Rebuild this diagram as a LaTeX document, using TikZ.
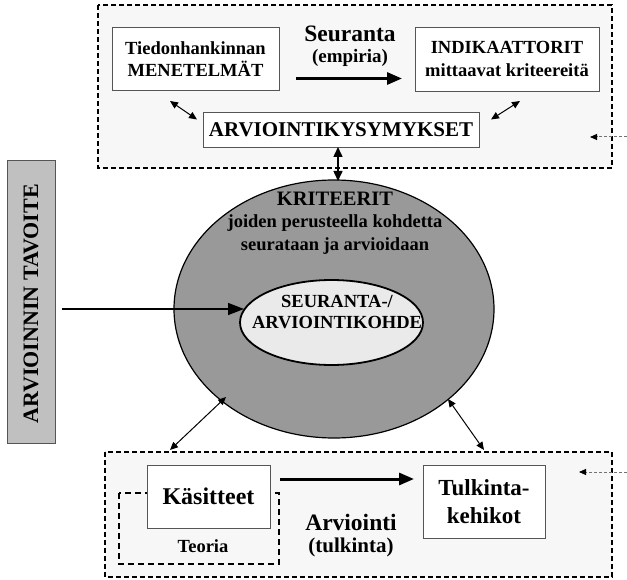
\documentclass[tikz,border=0pt]{standalone}
\usepackage{fontspec}
\setmainfont{Liberation Serif}
\usetikzlibrary{shapes.geometric,arrows.meta}
\definecolor{panel}{HTML}{F7F7F7}
\definecolor{ring}{HTML}{999999}
\definecolor{core}{HTML}{EAEAEA}
\definecolor{goal}{HTML}{C0C0C0}
\definecolor{edge}{HTML}{555555}
\newcommand{\fs}[1]{\fontsize{#1}{1.2\dimexpr#1pt\relax}\selectfont\bfseries}
\begin{document}
\begin{tikzpicture}[x=1pt,y=-1pt,
  panelbox/.style={draw=black, dash pattern=on 5pt off 3pt, line width=1.4pt, fill=panel},
  textbox/.style={draw=edge, line width=0.8pt, fill=white, inner sep=0pt, align=center},
  lbl/.style={inner sep=0pt, align=center},
  bigarrow/.style={line width=3pt, -{Triangle[length=15pt,width=12pt]}},
  twoway/.style={line width=1pt, {Triangle[length=8pt,width=7pt]}-{Triangle[length=8pt,width=7pt]}},
  hint/.style={draw=black!55, line width=1pt, dash pattern=on 3pt off 2pt, -{Triangle[length=7pt,width=6pt,color=black]}}
]
\useasboundingbox (0,0) rectangle (627,580);

% dashed panels
\draw[panelbox] (98,5) rectangle (612,168);
\draw[panelbox] (105,452) rectangle (612,577);

% upper panel: monitoring
\node[textbox, font=\fs{18.5}, minimum width=167pt, minimum height=63pt] (menet) at (195.5,59)
  {Tiedonhankinnan\\MENETELMÄT};
\node[textbox, font=\fs{18.5}, minimum width=184pt, minimum height=64pt] (indik) at (507,59)
  {INDIKAATTORIT\\[1pt]mittaavat kriteereitä};
\node[textbox, font=\fs{21}, minimum width=276pt, minimum height=35pt] (kys) at (341,129.5)
  {ARVIOINTIKYSYMYKSET};
\node[lbl, font=\fs{23.5}] (seur) at (350,34) {Seuranta};
\node[lbl, font=\fs{19}] (emp) at (350,58) {(empiria)};
\coordinate (s1) at (296,78.5);
\coordinate (s2) at (402,78.5);
\draw[bigarrow] (s1) -- (s2);

% goal bar
\node[draw=edge, line width=0.8pt, fill=goal, minimum width=48pt, minimum height=283pt, inner sep=0pt] (goal) at (31,301.5) {};
\node[lbl, rotate=90, font=\fs{22}] (goaltxt) at (31,304) {ARVIOINNIN TAVOITE};

% criteria ring and target
\node[draw=black, line width=1.2pt, fill=ring, ellipse, minimum width=320pt, minimum height=258pt, inner sep=0pt] (outer) at (334,309) {};
\node[draw=black, line width=1.8pt, fill=core, ellipse, minimum width=183pt, minimum height=85pt, inner sep=0pt] (inner) at (331.5,322.5) {};
\node[lbl, font=\fs{20.5}] (krit) at (335,199) {KRITEERIT};
\node[lbl, font=\fs{18.5}] (krit2) at (335,223) {joiden perusteella kohdetta};
\node[lbl, font=\fs{18.5}] (krit3) at (335,246) {seurataan ja arvioidaan};
\node[lbl, font=\fs{18.5}] (kohde) at (337,312) {SEURANTA-/\\[-2pt]ARVIOINTIKOHDE};

% lower panel: evaluation
\draw[black, line width=1.4pt, dash pattern=on 6pt off 4pt] (119,493) rectangle (279,564);
\node[textbox, font=\fs{24}, minimum width=123pt, minimum height=63pt] (kas) at (208.5,496.5) {Käsitteet};
\node[lbl, font=\fs{18.5}] (teoria) at (203,546) {Teoria};
\node[textbox, font=\fs{23}, minimum width=122pt, minimum height=73pt] (tulk) at (484,501.5)
  {Tulkinta-\\kehikot};
\node[lbl, font=\fs{23.5}] (arv) at (351,522) {Arviointi};
\node[lbl, font=\fs{21}] (arv2) at (351,547) {(tulkinta)};

% connectors
\coordinate (gstart) at (62,309);
\coordinate (gtip) at (244,309);
\draw[line width=1.5pt, -{Triangle[length=16pt,width=12pt]}] (gstart) -- (gtip);

\coordinate (t1) at (280,479);
\coordinate (t2) at (414,479);
\draw[bigarrow] (t1) -- (t2);

\coordinate (a1) at (170,101); \coordinate (a2) at (197,119.5);
\coordinate (b1) at (520,101); \coordinate (b2) at (491,119.5);
\draw[twoway] (a1) -- (a2);
\draw[twoway] (b1) -- (b2);
\coordinate (v1) at (338,147); \coordinate (v2) at (338,181);
\draw[line width=1.5pt, {Triangle[length=10pt,width=9pt]}-{Triangle[length=10pt,width=9pt]}] (v1) -- (v2);
\coordinate (c1) at (226,397); \coordinate (c2) at (170,450);
\coordinate (d1) at (448,399); \coordinate (d2) at (484,450);
\draw[twoway] (c1) -- (c2);
\draw[twoway] (d1) -- (d2);

\coordinate (h1) at (627,137); \coordinate (h2) at (590,137);
\coordinate (k1) at (627,472); \coordinate (k2) at (579,472);
\draw[hint] (h1) -- (h2);
\draw[hint] (k1) -- (k2);
\end{tikzpicture}
\end{document}
